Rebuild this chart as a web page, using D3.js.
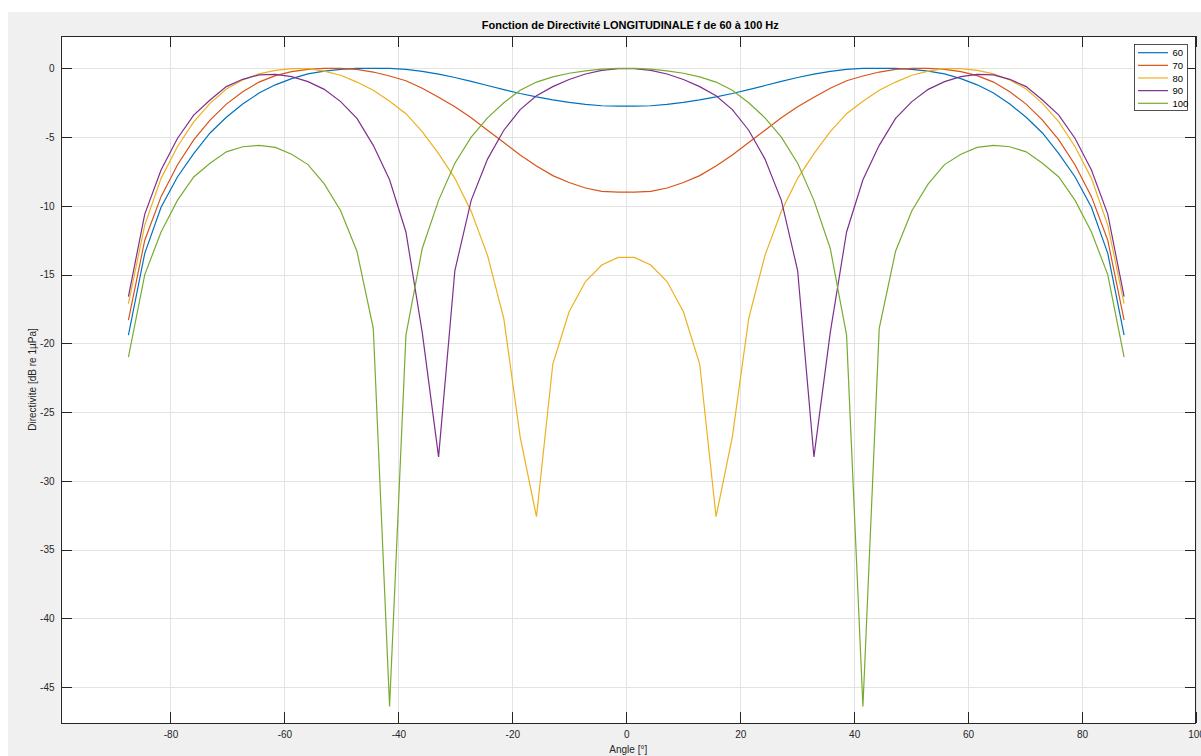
<!DOCTYPE html>
<html>
<head>
<meta charset="utf-8">
<script src="https://cdn.jsdelivr.net/npm/d3@7"></script>
<style>
  body { margin: 0; background: #fff; }
  svg { display: block; }
  text { font-family: "Liberation Sans", Arial, Helvetica, sans-serif; }
</style>
</head>
<body>
<svg id="chart" width="1201" height="756"></svg>
<script>
// Sampling angles in degrees
const angles = [
  -87.38, -84.51, -81.65, -78.78, -75.92, -73.05, -70.19, -67.32, -64.46, -61.59,
  -58.73, -55.86, -53.00, -50.13, -47.27, -44.40, -41.54, -38.67, -35.81, -32.94,
  -30.08, -27.22, -24.35, -21.49, -18.62, -15.76, -12.89, -10.03, -7.16, -4.30, -1.43,
  1.43, 4.30, 7.16, 10.03, 12.89, 15.76, 18.62, 21.49, 24.35, 27.22, 30.08,
  32.94, 35.81, 38.67, 41.54, 44.40, 47.27, 50.13, 53.00, 55.86, 58.73,
  61.59, 64.46, 67.32, 70.19, 73.05, 75.92, 78.78, 81.65, 84.51, 87.38
];

// Directivity (dB re 1 µPa) for each frequency
const dir60 = [
  -19.4, -13.45, -10.1, -7.9, -6.2, -4.7, -3.56, -2.6, -1.8, -1.2,
  -0.75, -0.4, -0.2, -0.07, 0, 0, -0.01, -0.08, -0.22, -0.42,
  -0.67, -0.95, -1.25, -1.55, -1.83, -2.08, -2.3, -2.48, -2.62, -2.72, -2.75,
  -2.75, -2.72, -2.62, -2.48, -2.3, -2.08, -1.83, -1.55, -1.25, -0.95, -0.67,
  -0.42, -0.22, -0.08, -0.01, 0, 0, -0.07, -0.2, -0.4, -0.75,
  -1.2, -1.8, -2.6, -3.56, -4.7, -6.2, -7.9, -10.1, -13.45, -19.4
];
const dir70 = [
  -18.3, -12.5, -9.33, -7.03, -5.2, -3.76, -2.6, -1.7, -1.0, -0.53,
  -0.24, -0.07, 0, 0, -0.07, -0.27, -0.56, -0.9, -1.45, -2.1,
  -2.8, -3.6, -4.5, -5.4, -6.3, -7.1, -7.8, -8.3, -8.7, -8.95, -9.0,
  -9.0, -8.95, -8.7, -8.3, -7.8, -7.1, -6.3, -5.4, -4.5, -3.6, -2.8,
  -2.1, -1.45, -0.9, -0.56, -0.27, -0.07, 0, 0, -0.07, -0.24,
  -0.53, -1.0, -1.7, -2.6, -3.76, -5.2, -7.03, -9.33, -12.5, -18.3
];
const dir80 = [
  -17.1, -11.4, -8.0, -5.7, -3.9, -2.55, -1.5, -0.85, -0.4, -0.15,
  -0.02, -0.02, -0.2, -0.5, -1.0, -1.6, -2.4, -3.3, -4.6, -6.2,
  -8.0, -10.4, -13.6, -18.2, -26.8, -32.6, -21.5, -17.7, -15.5, -14.3, -13.75,
  -13.75, -14.3, -15.5, -17.7, -21.5, -32.6, -26.8, -18.2, -13.6, -10.4, -8.0,
  -6.2, -4.6, -3.3, -2.4, -1.6, -1.0, -0.5, -0.2, -0.02, -0.02,
  -0.15, -0.4, -0.85, -1.5, -2.55, -3.9, -5.7, -8.0, -11.4, -17.1
];
const dir90 = [
  -16.6, -10.6, -7.4, -5.1, -3.4, -2.3, -1.33, -0.8, -0.48, -0.44,
  -0.6, -0.97, -1.53, -2.42, -3.64, -5.6, -8.1, -11.9, -19.2, -28.25,
  -14.7, -9.6, -6.6, -4.5, -3.0, -2.0, -1.33, -0.81, -0.41, -0.15, -0.02,
  -0.02, -0.15, -0.41, -0.81, -1.33, -2.0, -3.0, -4.5, -6.6, -9.6, -14.7,
  -28.25, -19.2, -11.9, -8.1, -5.6, -3.64, -2.42, -1.53, -0.97, -0.6,
  -0.44, -0.48, -0.8, -1.33, -2.3, -3.4, -5.1, -7.4, -10.6, -16.6
];
const dir100 = [
  -21.0, -15.0, -11.9, -9.6, -7.9, -6.9, -6.07, -5.7, -5.6, -5.75,
  -6.25, -7.0, -8.4, -10.35, -13.3, -18.9, -46.4, -19.4, -13.1, -9.6,
  -6.9, -5.0, -3.6, -2.5, -1.6, -1.0, -0.62, -0.36, -0.18, -0.06, 0,
  0, -0.06, -0.18, -0.36, -0.62, -1.0, -1.6, -2.5, -3.6, -5.0, -6.9,
  -9.6, -13.1, -19.4, -46.4, -18.9, -13.3, -10.35, -8.4, -7.0, -6.25,
  -5.75, -5.6, -5.7, -6.07, -6.9, -7.9, -9.6, -11.9, -15.0, -21.0
];

const seriesNames = ["60", "70", "80", "90", "100"];
const seriesValues = [dir60, dir70, dir80, dir90, dir100];
const seriesColors = ["#0072BD", "#D95319", "#EDB120", "#7E2F8E", "#77AC30"];

const xTickValues = [-80, -60, -40, -20, 0, 20, 40, 60, 80, 100];
const yTickValues = [0, -5, -10, -15, -20, -25, -30, -35, -40, -45];

const titleText = "Fonction de Directivité LONGITUDINALE f de 60 à 100 Hz";
const xLabelText = "Angle [°]";
const yLabelText = "Directivite [dB re 1µPa]";

// ---- layout ----
const W = 1201, H = 756;
const plot = { left: 60.5, right: 1196, top: 36, bottom: 723 };
const axisColor = "#262626";
const gridColor = "#e3e3e3";
const tickLen = 11;

const svg = d3.select("#chart");

// figure background
svg.append("rect").attr("x", 8).attr("y", 12).attr("width", W - 8).attr("height", H - 12)
  .attr("fill", "#f0f0f0");

const x = d3.scaleLinear().domain([-99.3, 100]).range([plot.left, plot.right]);
const y = d3.scaleLinear().domain([-47.6, 2.35]).range([plot.bottom, plot.top]);

// axes background
svg.append("rect")
  .attr("x", plot.left).attr("y", plot.top)
  .attr("width", plot.right - plot.left).attr("height", plot.bottom - plot.top)
  .attr("fill", "#ffffff");

// grid
const grid = svg.append("g").attr("stroke", gridColor).attr("stroke-width", 1).attr("shape-rendering", "crispEdges");
xTickValues.forEach(v => {
  const px = Math.round(x(v)) + 0.5;
  grid.append("line").attr("x1", px).attr("x2", px).attr("y1", plot.top).attr("y2", plot.bottom);
});
yTickValues.forEach(v => {
  const py = Math.round(y(v)) + 0.5;
  grid.append("line").attr("x1", plot.left).attr("x2", plot.right).attr("y1", py).attr("y2", py);
});

// curves
svg.append("clipPath").attr("id", "plotClip").append("rect")
  .attr("x", plot.left).attr("y", plot.top)
  .attr("width", plot.right - plot.left).attr("height", plot.bottom - plot.top);

const line = d3.line().x(d => x(d[0])).y(d => y(d[1]));
const curves = svg.append("g").attr("clip-path", "url(#plotClip)");
seriesValues.forEach((vals, i) => {
  curves.append("path")
    .datum(angles.map((a, j) => [a, vals[j]]))
    .attr("d", line)
    .attr("fill", "none")
    .attr("stroke", seriesColors[i])
    .attr("stroke-width", 1.2)
    .attr("stroke-linejoin", "miter");
});

// axes with inward ticks on all four sides
const fmt = d => d3.format("d")(d).replace("−", "-");
const xAxisB = d3.axisBottom(x).tickValues(xTickValues).tickSize(-tickLen).tickPadding(8).tickFormat(fmt);
const xAxisT = d3.axisTop(x).tickValues(xTickValues).tickSize(-tickLen).tickFormat("");
const yAxisL = d3.axisLeft(y).tickValues(yTickValues).tickSize(-tickLen).tickPadding(6).tickFormat(fmt);
const yAxisR = d3.axisRight(y).tickValues(yTickValues).tickSize(-tickLen).tickFormat("");

function styleAxis(g) {
  g.select(".domain").attr("stroke", axisColor).attr("stroke-width", 1);
  g.selectAll(".tick line").attr("stroke", axisColor).attr("stroke-width", 1);
  g.selectAll(".tick text").attr("fill", axisColor).attr("font-size", 10)
    .attr("font-family", '"Liberation Sans", Arial, sans-serif');
  g.attr("shape-rendering", "crispEdges");
}
svg.append("g").attr("transform", `translate(0,${plot.bottom})`).call(xAxisB).call(styleAxis)
  .call(g => g.select(".domain").attr("d", `M${plot.left},0.5H${plot.right}`));
svg.append("g").attr("transform", `translate(0,${plot.top})`).call(xAxisT).call(styleAxis)
  .call(g => g.select(".domain").attr("d", `M${plot.left},0.5H${plot.right}`));
svg.append("g").attr("transform", `translate(${plot.left},0)`).call(yAxisL).call(styleAxis)
  .call(g => g.select(".domain").attr("d", `M0.5,${plot.top}V${plot.bottom}`));
svg.append("g").attr("transform", `translate(${plot.right},0)`).call(yAxisR).call(styleAxis)
  .call(g => g.select(".domain").attr("d", `M-0.5,${plot.top}V${plot.bottom}`));

// title and axis labels
svg.append("text").attr("x", (plot.left + plot.right) / 2 + 2).attr("y", 29)
  .attr("text-anchor", "middle").attr("font-size", 11).attr("font-weight", "bold")
  .attr("fill", "#000").text(titleText);
svg.append("text").attr("x", (plot.left + plot.right) / 2).attr("y", 753)
  .attr("text-anchor", "middle").attr("font-size", 10).attr("fill", axisColor).text(xLabelText);
svg.append("text")
  .attr("transform", `translate(36,${(plot.top + plot.bottom) / 2}) rotate(-90)`)
  .attr("text-anchor", "middle").attr("font-size", 10).attr("fill", axisColor).text(yLabelText);

// legend
const leg = svg.append("g");
const legX = 1134.5, legY = 44.5, legW = 53, legH = 66, rowH = 12.65;
leg.append("rect").attr("x", legX).attr("y", legY).attr("width", legW).attr("height", legH)
  .attr("fill", "#fff").attr("stroke", "#262626").attr("stroke-width", 0.8);
seriesNames.forEach((name, i) => {
  const ry = legY + 8.2 + i * rowH;
  leg.append("line").attr("x1", legX + 3.5).attr("x2", legX + 33.5).attr("y1", ry).attr("y2", ry)
    .attr("stroke", seriesColors[i]).attr("stroke-width", 1.2);
  leg.append("text").attr("x", legX + 38).attr("y", ry + 3.5)
    .attr("font-size", 9.5).attr("fill", "#000").text(name);
});
</script>
</body>
</html>
